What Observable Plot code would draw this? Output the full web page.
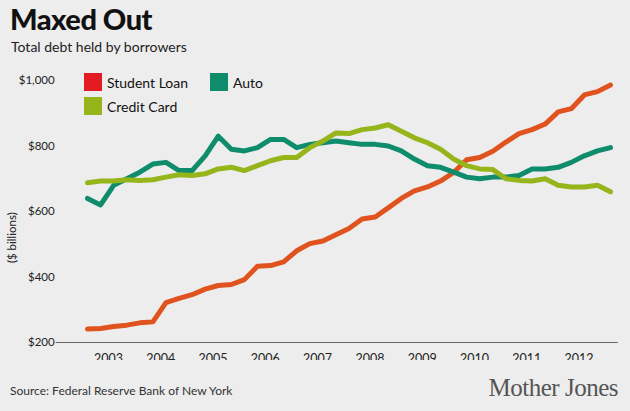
<!DOCTYPE html>
<html><head><meta charset="utf-8">
<script src="https://cdn.jsdelivr.net/npm/d3@7"></script>
<script src="https://cdn.jsdelivr.net/npm/@observablehq/plot@0.6"></script>
<style>
body{margin:0;background:#ededed;font-family:Lato,"Open Sans",sans-serif;width:630px;height:411px;position:relative;overflow:hidden}
#t{position:absolute;left:10px;top:1px;font-size:29px;font-weight:900;color:#111;letter-spacing:-0.5px}
#s{position:absolute;left:11px;top:38px;font-size:14px;color:#222}
#c{position:absolute;left:0;top:60px}
#leg{position:absolute;left:84px;top:73px;font-size:14px;color:#111}
.li{position:absolute;white-space:nowrap;display:flex;align-items:center}
.sw{width:18px;height:18px;display:inline-block;margin-right:5px}
#src{position:absolute;left:10px;top:383px;font-size:12px;color:#333}
#mj{position:absolute;right:12px;top:374px;font-size:25px;font-family:"Liberation Serif",serif;color:#555;letter-spacing:-0.5px}
</style></head><body>
<div id="t">Maxed Out</div>
<div id="s">Total debt held by borrowers</div>
<div id="c"></div>
<div id="leg">
 <div class="li" style="left:0;top:0"><span class="sw" style="background:#e31b23"></span>Student Loan</div>
 <div class="li" style="left:126px;top:0"><span class="sw" style="background:#0f8c6c"></span>Auto</div>
 <div class="li" style="left:0;top:24px"><span class="sw" style="background:#95b51a"></span>Credit Card</div>
</div>
<div id="src">Source: Federal Reserve Bank of New York</div>
<div id="mj">Mother Jones</div>
<script>
const student=[241,243,249,253,260,263,322,335,346,363,374,377,392,433,435,446,480,502,510,529,548,577,583,611,640,663,675,693,719,758,765,784,812,838,850,867,904,914,956,966,986];
const auto=[640,620,680,700,720,745,750,725,725,770,830,790,785,795,820,820,795,805,810,815,810,805,805,800,785,760,740,735,720,705,700,705,705,710,730,730,735,750,770,785,795];
const credit=[688,693,693,697,695,697,705,712,710,715,730,735,725,740,755,765,765,795,815,840,838,850,855,865,845,825,810,790,760,740,730,728,700,695,693,700,680,675,675,680,660];
const years=[2003,2004,2005,2006,2007,2008,2009,2010,2011,2012];
const yTicks=[200,400,600,800,1000];
const series=[["Student Loan",student,"#e0531f"],["Auto",auto,"#0f8c6c"],["Credit Card",credit,"#95b51a"]];
const rows=[];
for(const [name,vals] of series) vals.forEach((v,i)=>rows.push({name,t:2003+i/4,v}));
const chart=Plot.plot({
 width:630,height:300,marginLeft:87,marginRight:20,marginTop:20,marginBottom:18,
 style:{background:"transparent",fontFamily:"Lato,sans-serif",fontSize:"12px",color:"#222"},
 x:{domain:[2003,2013],axis:null},
 y:{domain:[200,1000],axis:null},
 marks:[
  Plot.ruleY([200],{x1:2002.4,x2:2013.15,stroke:"#666",strokeWidth:1}),
  Plot.text(yTicks,{x:2002.43,y:d=>d,dx:-3,text:d=>"$"+d3.format(",")(d),textAnchor:"end",fontSize:11.5}),
  Plot.text(years,{x:d=>d+0.4,y:200,dy:16,text:d=>String(d),fontSize:12.5}),
  Plot.text(["($ billions)"],{x:2002.43,y:520,dx:-45,rotate:-90,fontSize:11.5}),
  Plot.line(rows,{x:"t",y:"v",z:"name",stroke:d=>series.find(s=>s[0]===d.name)[2],strokeWidth:5,strokeLinejoin:"round"})
 ]
});
document.getElementById("c").appendChild(chart);
</script></body></html>
